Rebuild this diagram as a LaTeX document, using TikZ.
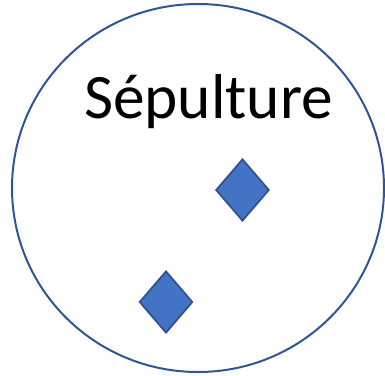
\documentclass[tikz,border=0pt]{standalone}
\usepackage{fontspec}
\setmainfont{Carlito}
\usetikzlibrary{shapes.geometric}

\definecolor{ringblue}{HTML}{2F5597}
\definecolor{gemfill}{HTML}{4472C4}
\definecolor{gemline}{HTML}{2F528F}

\tikzset{
  gem/.style={diamond, draw=gemline, fill=gemfill, line width=1.3pt,
    inner sep=0pt, minimum width=40pt, minimum height=46.5pt},
  ring/.style={draw=ringblue, line width=1.5pt}
}

\begin{document}
\begin{tikzpicture}[x=0.75pt,y=-0.75pt]
\useasboundingbox (0,0) rectangle (385,375);

% Outer ring
\coordinate (O) at (198,188);
\draw[ring] (O) ellipse [x radius=186, y radius=184];

% Title
\node[anchor=base, inner sep=0pt, font=\fontsize{47.5}{50}\selectfont] (title) at (208.5,118) {Sépulture};

% Markers
\node[gem] (gemA) at (242.5,190) {};
\node[gem] (gemB) at (166,302) {};
\end{tikzpicture}
\end{document}
